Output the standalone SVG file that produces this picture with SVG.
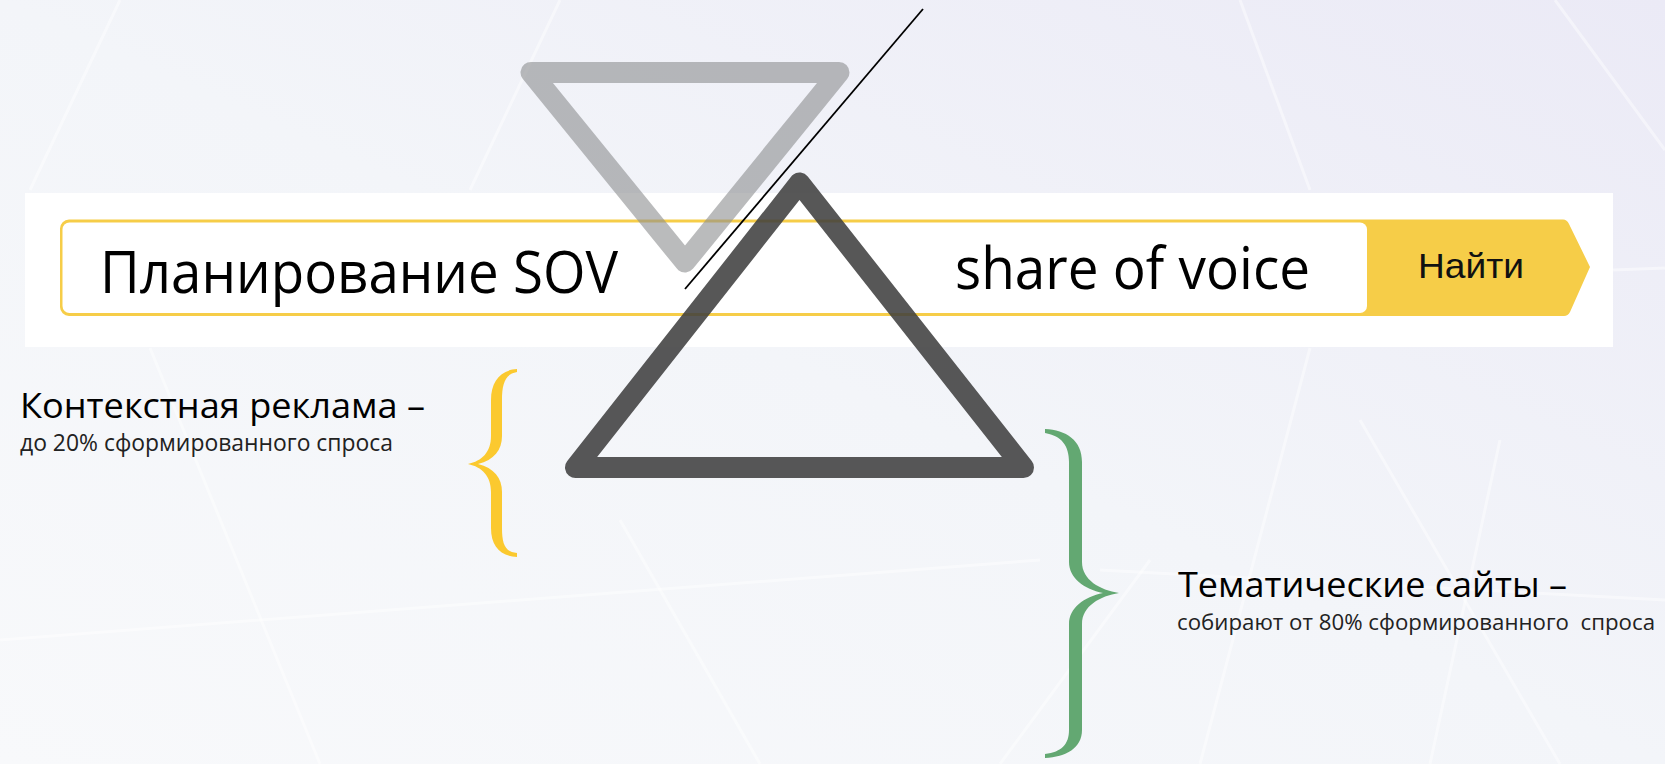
<svg xmlns="http://www.w3.org/2000/svg" width="1665" height="764" viewBox="0 0 1665 764">
  <defs>
    <linearGradient id="bg" x1="0" y1="1" x2="1" y2="0">
      <stop offset="0" stop-color="#f8f9fb"/>
      <stop offset="0.5" stop-color="#f3f5f9"/>
      <stop offset="1" stop-color="#ebeaf6"/>
    </linearGradient>
  </defs>
  <style>
    .bgline { stroke: #ffffff; stroke-width: 3; opacity: 0.45; fill: none; }
    .calibri { font-family: "Open Sans", "Noto Sans", "Liberation Sans", sans-serif; fill: #000000; }
    .big { font-size: 58px; }
    .head { font-size: 35.5px; }
    .sub { font-size: 23px; fill: #222222; }
    .sub2 { font-size: 22px; fill: #222222; }
    .btn { font-family: "Liberation Sans", Arial, sans-serif; font-size: 35px; fill: #111111; }
    .tri { fill: none; stroke-linejoin: round; stroke-width: 21; }
  </style>

  <!-- background -->
  <rect x="0" y="0" width="1665" height="764" fill="url(#bg)"/>
  <g id="background-lines">
    <line class="bgline" x1="120" y1="0" x2="30" y2="190"/>
    <line class="bgline" x1="560" y1="0" x2="470" y2="190"/>
    <line class="bgline" x1="1555" y1="0" x2="1665" y2="150"/>
    <line class="bgline" x1="1240" y1="0" x2="1310" y2="190"/>
    <line class="bgline" x1="1613" y1="270" x2="1665" y2="268"/>
    <line class="bgline" x1="1310" y1="348" x2="1200" y2="764"/>
    <line class="bgline" x1="1500" y1="440" x2="1430" y2="764"/>
    <line class="bgline" x1="1100" y1="570" x2="1665" y2="600"/>
    <line class="bgline" x1="1360" y1="420" x2="1560" y2="764"/>
    <line class="bgline" x1="150" y1="348" x2="320" y2="764"/>
    <line class="bgline" x1="0" y1="640" x2="1040" y2="560"/>
    <line class="bgline" x1="620" y1="520" x2="760" y2="764"/>
    <line class="bgline" x1="1150" y1="560" x2="1000" y2="764"/>
  </g>

  <!-- search bar -->
  <g id="search-bar">
    <rect x="25" y="193" width="1588" height="154" fill="#ffffff"/>
    <path d="M69,219.5 H1563 Q1567,219.5 1569,224 L1590,267 L1570,312 Q1568,316 1564,316 H69 A9,9 0 0 1 60,307 V228.5 A9,9 0 0 1 69,219.5 Z" fill="#f6cd48"/>
    <rect x="62.5" y="222.5" width="1304.5" height="90.5" rx="7" fill="#ffffff"/>
  </g>
  <g id="query-text">
    <text class="calibri big" x="100" y="293" textLength="518" lengthAdjust="spacingAndGlyphs">Планирование SOV</text>
  </g>
  <g id="query-text-2">
    <text class="calibri big" x="955" y="289" textLength="355" lengthAdjust="spacingAndGlyphs">share of voice</text>
  </g>
  <g id="search-button">
    <text class="btn" x="1418" y="278" textLength="106" lengthAdjust="spacingAndGlyphs">Найти</text>
  </g>

  <!-- left label -->
  <g id="context-label">
    <text class="calibri head" x="20" y="418" textLength="405" lengthAdjust="spacingAndGlyphs">Контекстная реклама –</text>
    <text class="calibri sub" x="20" y="451" textLength="373" lengthAdjust="spacingAndGlyphs">до 20% сформированного спроса</text>
  </g>

  <!-- yellow brace -->
  <g id="brace-yellow">
    <path fill="#fbc92f" d="M517,369 C500,370 491,382 491,400 L491,436 C491,452 482,461 468,464 C482,467 491,476 491,492 L491,528 C491,546 500,556 517,557 L517,553 C505,552 502,544 502,528 L502,492 C502,478 494,468 478,464 C494,460 502,450 502,436 L502,400 C502,384 505,374 517,372 Z"/>
  </g>

  <!-- green brace -->
  <g id="brace-green">
    <path fill="#63a872" d="M1045,429 C1066,430 1082,440 1082,462 L1082,562 C1082,580 1100,590 1119,593 C1100,596 1082,606 1082,624 L1082,730 C1082,748 1066,757 1045,758 L1045,754 C1062,752 1069,744 1069,730 L1069,624 C1069,608 1084,597 1103,593 C1084,589 1069,578 1069,562 L1069,462 C1069,446 1062,436 1045,433 Z"/>
  </g>

  <!-- right label -->
  <g id="sites-label">
    <text class="calibri head" x="1178" y="597" textLength="389" lengthAdjust="spacingAndGlyphs">Тематические сайты –</text>
    <text class="calibri sub2" x="1177" y="630" textLength="478" lengthAdjust="spacingAndGlyphs" xml:space="preserve">собирают от 80% сформированного  спроса</text>
  </g>

  <!-- triangles -->
  <g id="triangle-down">
    <polygon class="tri" points="531,72.5 839,72.5 685,262" stroke="#8c8d90" stroke-opacity="0.6"/>
  </g>
  <g id="triangle-up">
    <polygon class="tri" points="799.5,183 575.5,467.5 1023.5,467.5" stroke="#3e3e3e" stroke-opacity="0.87"/>
  </g>

  <g id="connectors">
    <line x1="923" y1="9" x2="685" y2="289" stroke="#000000" stroke-width="1.8"/>
  </g>
</svg>
